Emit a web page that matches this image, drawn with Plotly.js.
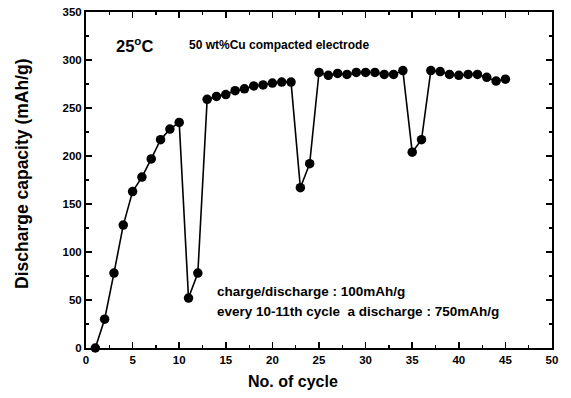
<!DOCTYPE html>
<html>
<head>
<meta charset="utf-8">
<script src="https://cdn.plot.ly/plotly-3.0.1.min.js"></script>
<style>html,body{margin:0;padding:0;background:#fff;}#chart{width:571px;height:398px;}</style>
</head>
<body>
<div id="chart"></div>
<script>
const cycles = [1,2,3,4,5,6,7,8,9,10,11,12,13,14,15,16,17,18,19,20,21,22,23,24,25,26,27,28,29,30,31,32,33,34,35,36,37,38,39,40,41,42,43,44,45];
const capacity = [0,30,78,128,163,178,197,217,228,235,52,78,259,262,264,268,270,273,274,276,277,277,167,192,287,284,286,285,287,287,287,285,285,289,204,217,289,288,285,284,285,285,282,278,280];
const xTickVals = [0,5,10,15,20,25,30,35,40,45,50];
const yTickVals = [0,50,100,150,200,250,300,350];
const xTitle = "No. of cycle";
const yTitle = "Discharge capacity (mAh/g)";
const labelTemp = "25<sup>o</sup>C";
const labelSample = "50 wt%Cu compacted electrode";
const labelCond1 = "charge/discharge : 100mAh/g";
const labelCond2 = "every 10-11th cycle  a discharge : 750mAh/g";

const font = "Arial, 'Liberation Sans', sans-serif";
const trace = {
  x: cycles, y: capacity, type: 'scatter', mode: 'lines+markers',
  line: {color: '#000', width: 1.6},
  marker: {color: '#000', size: 9.5},
  cliponaxis: false
};
const axisCommon = {
  showgrid: false, zeroline: false, showline: true, linecolor: '#000', linewidth: 2,
  mirror: 'ticks', ticks: 'inside', ticklen: 6, tickwidth: 1.5, tickcolor: '#000',
  tickfont: {family: font, size: 11.5, color: '#000', weight: 'bold'}
};
const bold = s => '<b>' + s + '</b>';
const plotW = 571 - 86 - 19, plotH = 398 - 12 - 50;
const px2paperX = p => (p - 86) / plotW;
const px2paperY = p => (398 - 50 - p) / plotH;
const layout = {
  width: 571, height: 398,
  margin: {l: 86, r: 19, t: 12, b: 50},
  paper_bgcolor: '#fff', plot_bgcolor: '#fff',
  showlegend: false,
  xaxis: Object.assign({}, axisCommon, {
    range: [0, 50], tickvals: xTickVals, ticktext: xTickVals.map(String),
    minor: {dtick: 2.5, tick0: 0, ticks: 'inside', ticklen: 3, tickwidth: 1.2, tickcolor: '#000'}
  }),
  yaxis: Object.assign({}, axisCommon, {
    range: [0, 350], tickvals: yTickVals, ticktext: yTickVals.map(String),
    minor: {dtick: 25, tick0: 0, ticks: 'inside', ticklen: 3, tickwidth: 1.2, tickcolor: '#000'}
  }),
  annotations: [
    {x: px2paperX(293), y: px2paperY(381), xref: 'paper', yref: 'paper', xanchor: 'center', yanchor: 'middle',
     text: bold(xTitle), showarrow: false, font: {family: font, size: 16, color: '#000'}},
    {x: px2paperX(22), y: px2paperY(174), xref: 'paper', yref: 'paper', xanchor: 'center', yanchor: 'middle',
     text: bold(yTitle), textangle: -90, showarrow: false, font: {family: font, size: 17.5, color: '#000'}},
    {x: 5.2, y: 316, xref: 'x', yref: 'y', text: bold(labelTemp), showarrow: false,
     font: {family: font, size: 16.5, color: '#000'}},
    {x: 10.8, y: 316, xref: 'x', yref: 'y', xanchor: 'left', text: bold(labelSample), showarrow: false,
     font: {family: font, size: 12, color: '#000'}},
    {x: 13.8, y: 59, xref: 'x', yref: 'y', xanchor: 'left', text: bold(labelCond1), showarrow: false,
     font: {family: font, size: 13.5, color: '#000'}},
    {x: 13.8, y: 38, xref: 'x', yref: 'y', xanchor: 'left', text: bold(labelCond2), showarrow: false,
     font: {family: font, size: 13.5, color: '#000'}}
  ]
};
Plotly.newPlot('chart', [trace], layout, {displayModeBar: false, staticPlot: true});
</script>
</body>
</html>
